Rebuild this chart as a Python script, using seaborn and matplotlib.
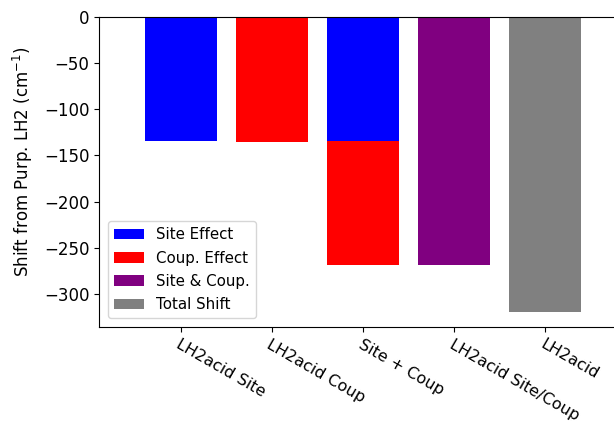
import numpy as np
import pandas as pd
import matplotlib
matplotlib.use("Agg")
import matplotlib.pyplot as plt
import seaborn as sns

categories = ["LH2acid Site", "LH2acid Coup", "Site + Coup", "LH2acid Site/Coup", "LH2acid"]

# shifts in cm^-1 relative to purple LH2
site_effect = {"LH2acid Site": -134, "Site + Coup": -134}
coup_effect = {"LH2acid Coup": -136, "Site + Coup": -135}
site_coup = {"LH2acid Site/Coup": -269}
total_shift = {"LH2acid": -320}

plt.rcParams["font.family"] = ["DejaVu Sans"]
plt.rcParams["font.size"] = 11.5

fig = plt.figure(figsize=(6.14, 4.25), dpi=100)
ax = fig.add_axes([99 / 614, 1 - 327 / 425, 528 / 614, 310 / 425])


def draw(series, color, label, bottom=None):
    df = pd.DataFrame({"case": list(series.keys()), "shift": list(series.values())})
    kws = {}
    if bottom is not None:
        kws["bottom"] = [bottom.get(c, 0) for c in df["case"]]
    sns.barplot(data=df, x="case", y="shift", order=categories, color=color,
                saturation=1, width=0.8, label=label, ax=ax, **kws)


draw(site_effect, "#0000ff", "Site Effect")
# coupling part stacks below the site part where both apply
draw(coup_effect, "#ff0000", "Coup. Effect",
     bottom={k: v for k, v in site_effect.items() if k in coup_effect})
draw(site_coup, "#800080", "Site & Coup.")
draw(total_shift, "#808080", "Total Shift")

ax.set_xlim(-0.9, 4.9)
ax.set_ylim(-336, 0)
ax.set_xlabel("")
ax.set_ylabel("Shift from Purp. LH2 (cm$^{-1}$)", fontsize=12)
ax.yaxis.set_label_coords(-0.121, 0.532)
ax.set_yticks([0, -50, -100, -150, -200, -250, -300])
ax.tick_params(axis="y", labelsize=12)
ax.tick_params(axis="x", labelsize=11.5)
ax.set_xticks(range(len(categories)))
ax.set_xticklabels(categories, rotation=-30, ha="left", rotation_mode="anchor")
ax.legend(loc="lower left", fontsize=10.8, labelspacing=0.55, borderaxespad=0.6)

fig.savefig("out.png", dpi=100)
